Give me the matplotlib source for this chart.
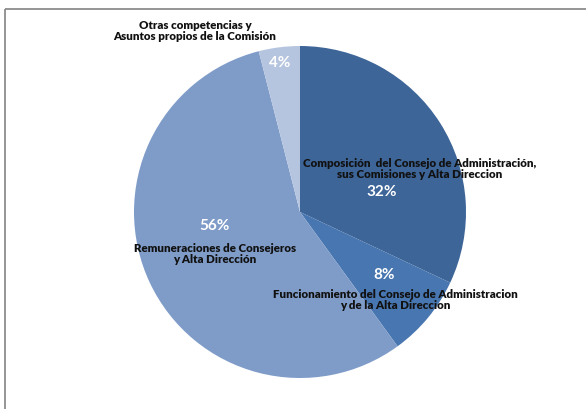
import matplotlib
matplotlib.use("Agg")
import matplotlib.pyplot as plt

# slice data (clockwise from 12 o'clock)
categories = [
    "Composición  del Consejo de Administración,\nsus Comisiones y Alta Direccion",
    "Funcionamiento del Consejo de Administracion\ny de la Alta Direccion",
    "Remuneraciones de Consejeros\ny Alta Dirección",
    "Otras competencias y\nAsuntos propios de la Comisión",
]
shares = [32, 8, 56, 4]
pct_labels = ["32%", "8%", "56%", "4%"]
colors = ["#3d6598", "#4876b0", "#7f9cc9", "#b6c5df"]

# label positions in pixel space (x, y from top)
cat_pos = [(420, 169), (395, 300), (215, 254), (195, 31)]
pct_pos = [(382, 192), (384, 275), (214, 226), (280, 63)]

W, H = 586, 410
fig = plt.figure(figsize=(W / 100, H / 100), dpi=100)
ax = fig.add_axes([0, 0, 1, 1])
ax.set_xlim(0, W)
ax.set_ylim(0, H)
ax.set_aspect("equal")

ax.pie(shares, colors=colors, startangle=90, counterclock=False,
       center=(300, H - 213), radius=166, frame=True,
       wedgeprops=dict(linewidth=0))
ax.axis("off")

font = ["Lato", "DejaVu Sans"]
for txt, (x, y) in zip(categories, cat_pos):
    ax.text(x, H - y, txt, ha="center", va="center", fontsize=8.3,
            fontweight="heavy", family=font, color="#111111", linespacing=1.05)
for txt, (x, y) in zip(pct_labels, pct_pos):
    ax.text(x, H - y, txt, ha="center", va="center", fontsize=11,
            fontweight="bold", family=font, color="white")

# chart frame (top and left edges visible)
ax.plot([5, W], [H - 10, H - 10], color="#8c8c8c", lw=1.3, solid_capstyle="butt")
ax.plot([5, 5], [H - 10, 0], color="#8c8c8c", lw=1.3, solid_capstyle="butt")

fig.savefig("out.png", dpi=100)
